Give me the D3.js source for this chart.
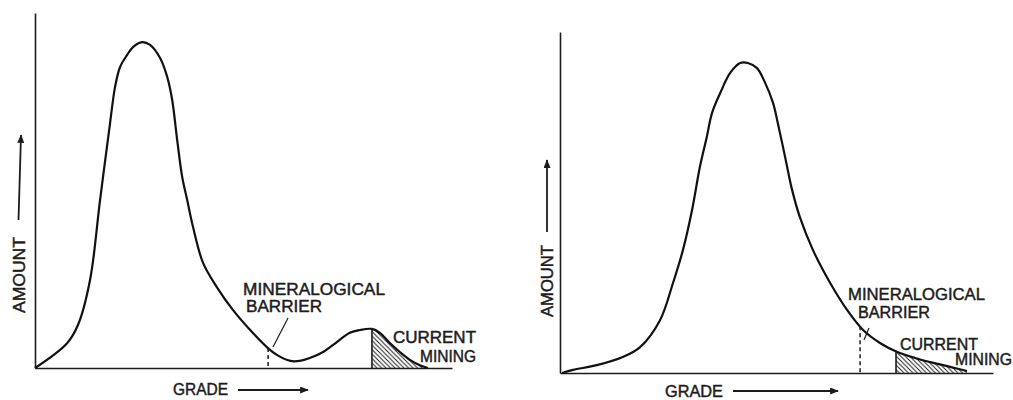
<!DOCTYPE html>
<html><head><meta charset="utf-8">
<script src="https://cdn.jsdelivr.net/npm/d3@7"></script>
<style>
body{margin:0;background:#fff}
svg text{font-family:"Liberation Sans",Arial,sans-serif;fill:#1c1c1c;stroke:#1c1c1c;stroke-width:0.45px;font-size:16px}
</style>
</head><body>
<svg id="c" width="1013" height="400"></svg>
<script>
// ---- data (grade %, amount % of axis height) ----
const leftGrade  = [0,7.7,10.3,13.2,15.6,18.0,19.2,20.4,22.1,23.5,25.7,27.6,30.0,31.7,32.9,34.1,35.3,36.5,37.9,40.3,43.6,47.5,51.6,55.6,58.0,61.2,63.5,65.9,69.1,71.5,75.5,77.9,80.8,82.7,85.1,87.5,89.9,92.3,94.2];
const leftAmount = [0,7.0,12.1,24.8,47.3,69.0,79.2,84.8,88.2,90.4,91.8,91.0,87.3,82.0,75.5,64.2,53.8,47.3,39.7,29.6,22.8,16.3,10.7,5.9,3.7,2.0,2.0,2.8,4.5,6.5,9.9,10.7,11.0,9.9,7.0,4.5,2.3,0.8,0];
const rightGrade  = [0.5,3.0,8.5,14.5,18.5,23.1,26.1,28.4,30.5,32.3,33.9,35.1,37.0,39.3,41.6,43.4,45.5,47.3,49.2,50.3,52.0,53.6,55.4,58.4,62.4,66.3,70.0,73.9,77.8,82.0,85.5,90.1,94.0];
const rightAmount = [0,0.9,2.3,4.7,7.6,15.5,26.4,36.1,47.8,60.4,69.2,76.2,82.1,88.0,90.9,90.9,89.4,85.3,79.2,73.3,63.3,53.7,45.7,36.1,26.4,18.5,12.6,8.8,6.2,4.4,3.2,1.8,0.6];
const leftBarrier = 55.9, leftMiningStart = 80.8;
const rightBarrier = 69.3, rightMiningStart = 77.6;
const axisLabels = ["GRADE", "AMOUNT"];
const barrierLabel = ["MINERALOGICAL", "BARRIER"];
const miningLabel = ["CURRENT", "MINING"];

const svg = d3.select("#c");
const defs = svg.append("defs");
defs.append("marker").attr("id","arr").attr("viewBox","0 0 10 8")
  .attr("refX",9).attr("refY",4).attr("markerWidth",9).attr("markerHeight",7)
  .attr("markerUnits","userSpaceOnUse").attr("orient","auto")
  .append("path").attr("d","M0,0 L10,4 L0,8 Z").attr("fill","#1c1c1c");
defs.append("pattern").attr("id","hatch").attr("patternUnits","userSpaceOnUse")
  .attr("width",4.5).attr("height",4.5)
  .append("path").attr("d","M0,0 L4.5,4.5 M-1,3.5 L1,5.5 M3.5,-1 L5.5,1")
  .attr("stroke","#1c1c1c").attr("stroke-width",1);

const panels = [
  {id:"L", grade:leftGrade, amount:leftAmount, barrier:leftBarrier, mining:leftMiningStart,
   xr:[35,452], yr:[368,13],
   lab:{min:[243,295,142], bar:[246,312,76], cur:[393,343,83], ming:[420,362,56],
        grade:[173,395,55], gArrow:[238,308,390], amount:[25,275,76], aArrow:[18.5,220,21,135],
        leader:[273,347,288,318]}},
  {id:"R", grade:rightGrade, amount:rightAmount, barrier:rightBarrier, mining:rightMiningStart,
   xr:[560,993], yr:[373,32],
   lab:{min:[848,300,137], bar:[858,318,72], cur:[900,350,78], ming:[955,365,57],
        grade:[665,397,58], gArrow:[733,838,391], amount:[553,281,72], aArrow:[547,232,547,160],
        leader:[864,340,869,328]}}
];

function interp(gs, as, g){
  const i = d3.bisectLeft(gs, g);
  if (i<=0) return as[0];
  if (i>=gs.length) return as[as.length-1];
  const t = (g-gs[i-1])/(gs[i]-gs[i-1]);
  return as[i-1] + t*(as[i]-as[i-1]);
}

panels.forEach(p => {
  const x = d3.scaleLinear().domain([0,100]).range(p.xr);
  const y = d3.scaleLinear().domain([0,100]).range(p.yr);
  const g = svg.append("g");
  const pts = p.grade.map((v,i)=>[v,p.amount[i]]);
  const crv = d3.curveCatmullRom.alpha(0.5);

  // hatched area (current mining)
  defs.append("clipPath").attr("id","clip"+p.id).append("rect")
    .attr("x", x(p.mining)).attr("y", 0).attr("width", 1013).attr("height", y(0));
  g.append("path").datum(pts)
    .attr("d", d3.area().x(d=>x(d[0])).y0(y(0)).y1(d=>y(d[1])).curve(crv))
    .attr("fill","url(#hatch)").attr("clip-path","url(#clip"+p.id+")");
  g.append("line").attr("x1",x(p.mining)).attr("x2",x(p.mining))
    .attr("y1",y(interp(p.grade,p.amount,p.mining))).attr("y2",y(0))
    .attr("stroke","#1c1c1c").attr("stroke-width",1.6);

  // axes
  g.append("g").attr("transform",`translate(0,${y(0)})`)
    .call(d3.axisBottom(x).ticks(0).tickSizeOuter(0))
    .call(s=>s.select(".domain").attr("stroke","#1c1c1c").attr("stroke-width",1.6));
  g.append("g").attr("transform",`translate(${x(0)},0)`)
    .call(d3.axisLeft(y).ticks(0).tickSizeOuter(0))
    .call(s=>s.select(".domain").attr("stroke","#1c1c1c").attr("stroke-width",1.6));

  // curve
  g.append("path").datum(pts)
    .attr("d", d3.line().x(d=>x(d[0])).y(d=>y(d[1])).curve(crv))
    .attr("fill","none").attr("stroke","#111").attr("stroke-width",2.2)
    .attr("stroke-linejoin","round");

  // barrier dashed
  g.append("line").attr("x1",x(p.barrier)).attr("x2",x(p.barrier))
    .attr("y1",y(interp(p.grade,p.amount,p.barrier))).attr("y2",y(0))
    .attr("stroke","#1c1c1c").attr("stroke-width",1.5).attr("stroke-dasharray","4,3");

  const L = p.lab;
  g.append("line").attr("x1",L.leader[0]).attr("y1",L.leader[1]).attr("x2",L.leader[2]).attr("y2",L.leader[3])
    .attr("stroke","#1c1c1c").attr("stroke-width",1.2);

  const txt = (s,a)=>g.append("text").attr("x",a[0]).attr("y",a[1])
    .attr("textLength",a[2]).attr("lengthAdjust","spacingAndGlyphs").text(s);
  txt(barrierLabel[0], L.min);
  txt(barrierLabel[1], L.bar);
  txt(miningLabel[0], L.cur);
  txt(miningLabel[1], L.ming);
  txt(axisLabels[0], L.grade);
  g.append("line").attr("x1",L.gArrow[0]).attr("x2",L.gArrow[1]).attr("y1",L.gArrow[2]).attr("y2",L.gArrow[2])
    .attr("stroke","#1c1c1c").attr("stroke-width",1.8).attr("marker-end","url(#arr)");
  g.append("text").attr("transform",`translate(${L.amount[0]},${L.amount[1]}) rotate(-90)`)
    .attr("text-anchor","middle").attr("textLength",L.amount[2]).attr("lengthAdjust","spacingAndGlyphs")
    .text(axisLabels[1]);
  g.append("line").attr("x1",L.aArrow[0]).attr("y1",L.aArrow[1]).attr("x2",L.aArrow[2]).attr("y2",L.aArrow[3])
    .attr("stroke","#1c1c1c").attr("stroke-width",1.8).attr("marker-end","url(#arr)");
});
</script>
</body></html>
